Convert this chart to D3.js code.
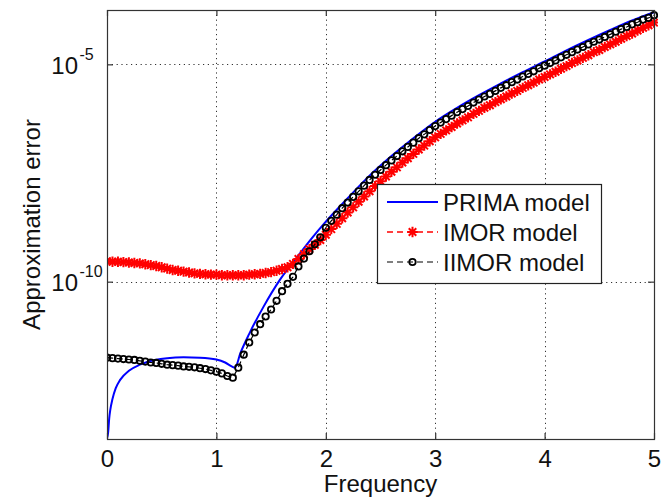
<!DOCTYPE html>
<html><head><meta charset="utf-8">
<script src="https://cdn.jsdelivr.net/npm/d3@7"></script>
<style>html,body{margin:0;padding:0;background:#fff;}svg{display:block;font-family:"Liberation Sans",Arial,sans-serif;}</style>
</head><body><svg id="chart" width="667" height="498"></svg>
<script>
// ---- data ----
const xTicks = [0, 1, 2, 3, 4, 5];
const yTicks = [1e-10, 1e-5];
const yTickExp = ["-10", "-5"];
const seriesNames = ["PRIMA model", "IMOR model", "IIMOR model"];

const primaFreq = [0, 0.01, 0.02, 0.03, 0.05, 0.08, 0.12, 0.2, 0.3, 0.44, 0.55, 0.7, 0.85, 1.0, 1.08, 1.14, 1.17, 1.22, 1.3, 1.43, 1.58, 1.74, 1.86, 2.0, 2.2, 2.4, 2.6, 2.8, 3.0, 3.2, 3.4, 3.6, 3.8, 4.0, 4.2, 4.4, 4.6, 4.8, 5.0];
const primaErr = [2.51e-14, 3.31e-14, 7.08e-14, 1.12e-13, 2.0e-13, 3.55e-13, 5.5e-13, 8.91e-13, 1.23e-12, 1.58e-12, 1.74e-12, 1.82e-12, 1.78e-12, 1.62e-12, 1.38e-12, 1.12e-12, 1.05e-12, 2.29e-12, 6.31e-12, 2.63e-11, 1.10e-10, 3.72e-10, 9.12e-10, 2.4e-9, 8.32e-9, 2.75e-8, 7.76e-8, 2.0e-7, 4.79e-7, 1.0e-6, 1.95e-6, 3.63e-6, 6.61e-6, 1.17e-5, 2.09e-5, 3.63e-5, 6.17e-5, 1.02e-4, 1.58e-4];

const markerFreq = [0, 0.05, 0.1, 0.15, 0.2, 0.25, 0.3, 0.35, 0.4, 0.45, 0.5, 0.55, 0.6, 0.65, 0.7, 0.75, 0.8, 0.85, 0.9, 0.95,
  1.0, 1.05, 1.1, 1.15, 1.2, 1.25, 1.3, 1.35, 1.4, 1.45, 1.5, 1.55, 1.6, 1.65, 1.7, 1.75, 1.8, 1.85, 1.9, 1.95,
  2.0, 2.05, 2.1, 2.15, 2.2, 2.25, 2.3, 2.35, 2.4, 2.45, 2.5, 2.55, 2.6, 2.65, 2.7, 2.75, 2.8, 2.85, 2.9, 2.95,
  3.0, 3.05, 3.1, 3.15, 3.2, 3.25, 3.3, 3.35, 3.4, 3.45, 3.5, 3.55, 3.6, 3.65, 3.7, 3.75, 3.8, 3.85, 3.9, 3.95,
  4.0, 4.05, 4.1, 4.15, 4.2, 4.25, 4.3, 4.35, 4.4, 4.45, 4.5, 4.55, 4.6, 4.65, 4.7, 4.75, 4.8, 4.85, 4.9, 4.95, 5.0];

const imorErr = [2.95e-10, 2.88e-10, 2.88e-10, 2.82e-10, 2.75e-10, 2.69e-10, 2.63e-10, 2.51e-10, 2.40e-10, 2.29e-10, 2.14e-10, 2.00e-10, 1.86e-10, 1.78e-10, 1.70e-10, 1.62e-10, 1.55e-10, 1.51e-10, 1.48e-10, 1.45e-10,
  1.45e-10, 1.41e-10, 1.41e-10, 1.41e-10, 1.41e-10, 1.41e-10, 1.45e-10, 1.48e-10, 1.51e-10, 1.58e-10, 1.66e-10, 1.78e-10, 1.95e-10, 2.14e-10, 2.57e-10, 3.31e-10, 4.27e-10, 5.62e-10, 7.08e-10, 9.12e-10,
  1.20e-9, 1.62e-9, 2.14e-9, 2.88e-9, 3.89e-9, 5.13e-9, 6.92e-9, 9.12e-9, 1.20e-8, 1.58e-8, 2.04e-8, 2.63e-8, 3.39e-8, 4.27e-8, 5.50e-8, 6.92e-8, 8.71e-8, 1.10e-7, 1.35e-7, 1.70e-7,
  2.09e-7, 2.51e-7, 3.02e-7, 3.63e-7, 4.37e-7, 5.13e-7, 6.03e-7, 7.24e-7, 8.51e-7, 1.00e-6, 1.15e-6, 1.35e-6, 1.58e-6, 1.82e-6, 2.14e-6, 2.45e-6, 2.88e-6, 3.31e-6, 3.80e-6, 4.47e-6,
  5.13e-6, 5.89e-6, 6.76e-6, 7.94e-6, 9.12e-6, 1.07e-5, 1.23e-5, 1.41e-5, 1.62e-5, 1.91e-5, 2.14e-5, 2.51e-5, 2.88e-5, 3.31e-5, 3.89e-5, 4.47e-5, 5.13e-5, 6.03e-5, 6.92e-5, 7.94e-5, 9.12e-5];

const iimorErr = [1.78e-12, 1.74e-12, 1.70e-12, 1.66e-12, 1.62e-12, 1.58e-12, 1.51e-12, 1.45e-12, 1.38e-12, 1.35e-12, 1.29e-12, 1.23e-12, 1.20e-12, 1.17e-12, 1.12e-12, 1.10e-12, 1.07e-12, 1.02e-12, 9.77e-13, 9.12e-13,
  8.51e-13, 7.76e-13, 6.76e-13, 6.17e-13, 1.05e-12, 2.09e-12, 3.98e-12, 6.76e-12, 1.05e-11, 1.58e-11, 2.29e-11, 3.63e-11, 6.03e-11, 8.91e-11, 1.29e-10, 2.24e-10, 3.39e-10, 5.01e-10, 7.24e-10, 1.05e-9,
  1.74e-9, 2.51e-9, 3.47e-9, 4.90e-9, 6.61e-9, 8.91e-9, 1.20e-8, 1.62e-8, 2.19e-8, 2.88e-8, 3.72e-8, 4.79e-8, 6.17e-8, 7.76e-8, 1.00e-7, 1.26e-7, 1.58e-7, 2.00e-7, 2.45e-7, 3.09e-7,
  3.80e-7, 4.57e-7, 5.50e-7, 6.61e-7, 7.94e-7, 9.33e-7, 1.10e-6, 1.32e-6, 1.55e-6, 1.82e-6, 2.09e-6, 2.45e-6, 2.88e-6, 3.31e-6, 3.89e-6, 4.47e-6, 5.25e-6, 6.03e-6, 6.92e-6, 8.13e-6,
  9.33e-6, 1.07e-5, 1.23e-5, 1.45e-5, 1.66e-5, 1.91e-5, 2.19e-5, 2.51e-5, 2.88e-5, 3.31e-5, 3.72e-5, 4.27e-5, 4.90e-5, 5.62e-5, 6.46e-5, 7.24e-5, 8.32e-5, 9.33e-5, 1.07e-4, 1.17e-4, 1.35e-4];

const xDomain = [0, 5];
const yDomain = [2.4e-14, 1.78e-4];

// ---- layout ----
const L = 107, R = 654, T = 10, B = 439;
const svg = d3.select("#chart");
const x = d3.scaleLinear().domain(xDomain).range([L, R]);
const y = d3.scaleLog().domain(yDomain).range([B, T]);

svg.append("rect").attr("x", 0).attr("y", 0).attr("width", 667).attr("height", 498).attr("fill", "#fff");

// grid
const grid = svg.append("g").attr("stroke", "#333").attr("stroke-width", 1).attr("stroke-dasharray", "1.2,3.6");
grid.selectAll("line.gx").data(xTicks.slice(1, -1)).join("line")
  .attr("x1", d => Math.round(x(d)) + 0.5).attr("x2", d => Math.round(x(d)) + 0.5).attr("y1", T).attr("y2", B);
grid.selectAll("line.gy").data(yTicks).join("line")
  .attr("y1", d => Math.round(y(d)) + 0.5).attr("y2", d => Math.round(y(d)) + 0.5).attr("x1", L).attr("x2", R);

// clip
svg.append("clipPath").attr("id", "clip").append("rect").attr("x", L).attr("y", T - 4).attr("width", R - L + 4).attr("height", B - T + 4);
const plot = svg.append("g").attr("clip-path", "url(#clip)");

const primaData = primaFreq.map((f, i) => [f, primaErr[i]]);
const imorData = markerFreq.map((f, i) => [f, imorErr[i]]);
const iimorData = markerFreq.map((f, i) => [f, iimorErr[i]]);
const line = d3.line().x(d => x(d[0])).y(d => y(d[1])).curve(d3.curveMonotoneX);
const lineLin = d3.line().x(d => x(d[0])).y(d => y(d[1]));

// PRIMA
plot.append("path").datum(primaData).attr("d", line).attr("fill", "none").attr("stroke", "#0000ff").attr("stroke-width", 2);

// IMOR (red, dashed with star markers)
const starR = 5.2, k = starR * 0.72;
const starPath = `M${-starR},0L${starR},0M0,${-starR}L0,${starR}M${-k},${-k}L${k},${k}M${-k},${k}L${k},${-k}`;
plot.append("path").datum(imorData).attr("d", lineLin).attr("fill", "none").attr("stroke", "#ff0000").attr("stroke-width", 1.5).attr("stroke-dasharray", "6,4");
plot.append("g").selectAll("path").data(imorData).join("path")
  .attr("transform", d => `translate(${x(d[0])},${y(d[1])})`)
  .attr("d", starPath).attr("stroke", "#ff0000").attr("stroke-width", 2).attr("fill", "none");

// IIMOR (black, dashed with circles)
plot.append("path").datum(iimorData).attr("d", lineLin).attr("fill", "none").attr("stroke", "#000").attr("stroke-width", 1.2).attr("stroke-dasharray", "6,4");
plot.append("g").selectAll("circle").data(iimorData).join("circle")
  .attr("cx", d => x(d[0])).attr("cy", d => y(d[1])).attr("r", 3.2)
  .attr("fill", "none").attr("stroke", "#000").attr("stroke-width", 1.8);

// axes box
svg.append("rect").attr("x", L + 0.5).attr("y", T + 0.5).attr("width", R - L).attr("height", B - T)
  .attr("fill", "none").attr("stroke", "#333").attr("stroke-width", 1.2);

// x axis ticks (inward, bottom & top)
const xAxisB = d3.axisBottom(x).tickValues(xTicks).tickSizeInner(-6).tickSizeOuter(0).tickPadding(12).tickFormat(d3.format("d"));
const gxb = svg.append("g").attr("transform", `translate(0,${B})`).call(xAxisB);
gxb.select(".domain").remove();
gxb.selectAll("line").attr("stroke", "#333").attr("stroke-width", 1.2);
gxb.selectAll("text").attr("font-size", 24).attr("fill", "#111").attr("font-family", "Liberation Sans, Arial, sans-serif").attr("dy", null).attr("y", 28);
const xAxisT = d3.axisTop(x).tickValues(xTicks).tickSizeInner(-6).tickSizeOuter(0).tickFormat("");
const gxt = svg.append("g").attr("transform", `translate(0,${T})`).call(xAxisT);
gxt.select(".domain").remove();
gxt.selectAll("line").attr("stroke", "#333").attr("stroke-width", 1.2);

// y axis ticks (inward, left & right) with 10^n labels
const yAxisL = d3.axisLeft(y).tickValues(yTicks).tickSizeInner(-6).tickSizeOuter(0).tickFormat("");
const gyl = svg.append("g").attr("transform", `translate(${L},0)`).call(yAxisL);
gyl.select(".domain").remove();
gyl.selectAll("line").attr("stroke", "#333").attr("stroke-width", 1.2);
const yAxisR = d3.axisRight(y).tickValues(yTicks).tickSizeInner(-6).tickSizeOuter(0).tickFormat("");
const gyr = svg.append("g").attr("transform", `translate(${R},0)`).call(yAxisR);
gyr.select(".domain").remove();
gyr.selectAll("line").attr("stroke", "#333").attr("stroke-width", 1.2);

svg.append("g").selectAll("text").data(yTicks).join("text")
  .attr("x", 78).attr("y", d => y(d) + 9.5).attr("text-anchor", "end")
  .attr("font-size", 24).attr("fill", "#111").text("10");
svg.append("g").selectAll("text").data(yTicks).join("text")
  .attr("x", 79.5).attr("y", d => y(d) - 4.5).attr("text-anchor", "start")
  .attr("font-size", 16).attr("fill", "#111").text((d, i) => yTickExp[i]);

// axis labels
svg.append("text").attr("x", (L + R) / 2).attr("y", 492).attr("text-anchor", "middle")
  .attr("font-size", 24).attr("fill", "#111").text("Frequency");
svg.append("text").attr("transform", `translate(40,${(T + B) / 2}) rotate(-90)`).attr("text-anchor", "middle")
  .attr("font-size", 24).attr("fill", "#111").text("Approximation error");

// legend
const lg = svg.append("g");
lg.append("rect").attr("x", 377.5).attr("y", 184.5).attr("width", 224).attr("height", 99)
  .attr("fill", "#fff").attr("stroke", "#222").attr("stroke-width", 1.2);
const rows = [202, 232, 262];
const lx1 = 387, lx2 = 438;
lg.append("line").attr("x1", lx1).attr("x2", lx2).attr("y1", rows[0]).attr("y2", rows[0]).attr("stroke", "#0000ff").attr("stroke-width", 2);
lg.append("line").attr("x1", lx1).attr("x2", lx2).attr("y1", rows[1]).attr("y2", rows[1]).attr("stroke", "#ff0000").attr("stroke-width", 1.5).attr("stroke-dasharray", "6,4");
lg.append("path").attr("transform", `translate(${(lx1 + lx2) / 2},${rows[1]})`).attr("d", starPath).attr("stroke", "#ff0000").attr("stroke-width", 2).attr("fill", "none");
lg.append("line").attr("x1", lx1).attr("x2", lx2).attr("y1", rows[2]).attr("y2", rows[2]).attr("stroke", "#000").attr("stroke-width", 1.2).attr("stroke-dasharray", "6,4");
lg.append("circle").attr("cx", (lx1 + lx2) / 2).attr("cy", rows[2]).attr("r", 3.2).attr("fill", "none").attr("stroke", "#000").attr("stroke-width", 1.8);
lg.selectAll("text.lt").data(seriesNames).join("text")
  .attr("x", 443).attr("y", (d, i) => rows[i] + 9)
  .attr("font-size", 24).attr("fill", "#111").text(d => d);
</script></body></html>
